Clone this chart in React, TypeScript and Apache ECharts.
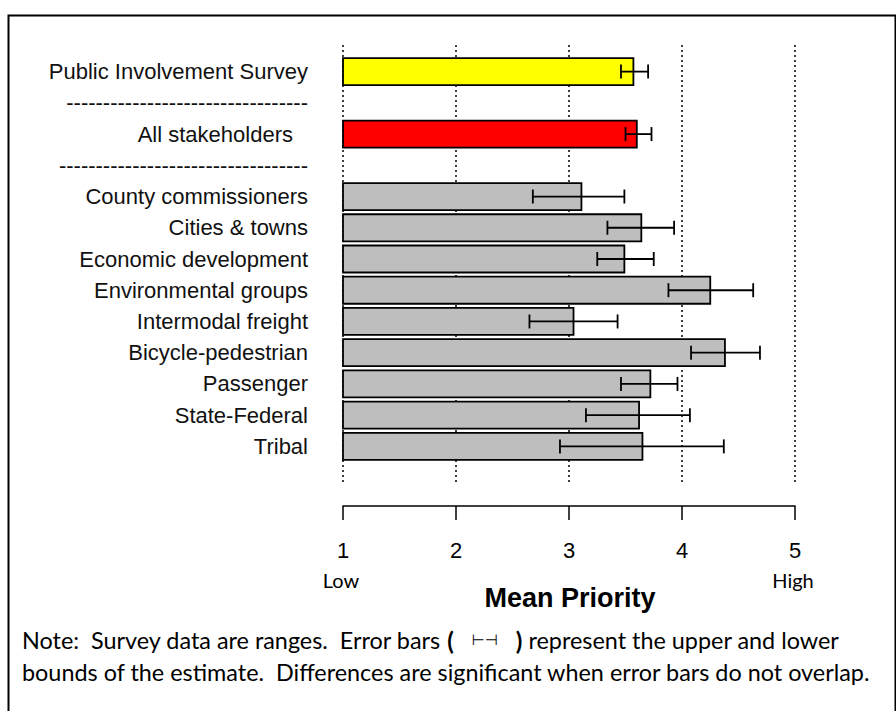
import React, { useEffect, useRef } from "react";
import * as echarts from "echarts";

const categories = [
  "Public Involvement Survey",
  "sep1",
  "All stakeholders",
  "sep2",
  "County commissioners",
  "Cities & towns",
  "Economic development",
  "Environmental groups",
  "Intermodal freight",
  "Bicycle-pedestrian",
  "Passenger",
  "State-Federal",
  "Tribal",
];

const barCategories = [
  "Public Involvement Survey",
  "All stakeholders",
  "County commissioners",
  "Cities & towns",
  "Economic development",
  "Environmental groups",
  "Intermodal freight",
  "Bicycle-pedestrian",
  "Passenger",
  "State-Federal",
  "Tribal",
];
const meanValues = [3.57, 3.6, 3.11, 3.64, 3.49, 4.25, 3.04, 4.38, 3.72, 3.62, 3.65];
const lowerBounds = [3.46, 3.5, 2.68, 3.34, 3.25, 3.88, 2.65, 4.08, 3.46, 3.15, 2.92];
const upperBounds = [3.7, 3.73, 3.49, 3.93, 3.75, 4.63, 3.43, 4.69, 3.96, 4.07, 4.37];
const tickValues = [1, 2, 3, 4, 5];

const barFill: Record<string, string> = {
  "Public Involvement Survey": "#FFFF00",
  "All stakeholders": "#FF0000",
};
const defaultFill = "#BEBEBE";

export default function App() {
  const ref = useRef<HTMLDivElement>(null);
  useEffect(() => {
    document.body.style.margin = "0";
    const chart = echarts.init(ref.current!, null, { renderer: "svg" });
    const data = barCategories.map((c, i) => [
      meanValues[i],
      categories.indexOf(c),
      lowerBounds[i],
      upperBounds[i],
    ]);
    const labelFont = "'Liberation Sans', Arial, sans-serif";
    const noteFont = "Lato, 'Open Sans', sans-serif";
    const option: any = {
      animation: false,
      backgroundColor: "#ffffff",
      grid: [
        { left: 343, right: 101, top: 56, height: 406 },
        { left: 343, right: 101, top: 45, height: 437 },
      ],
      xAxis: [
        {
          type: "value",
          gridIndex: 0,
          min: tickValues[0],
          max: tickValues[tickValues.length - 1],
          interval: 1,
          offset: 44,
          axisLine: { show: true, lineStyle: { color: "#000", width: 1.5 } },
          axisTick: { show: true, length: 14, lineStyle: { color: "#000", width: 1.5 } },
          axisLabel: {
            show: true,
            margin: 33,
            color: "#000",
            fontSize: 22,
            fontFamily: labelFont,
          },
          splitLine: { show: false },
        },
        {
          type: "value",
          gridIndex: 1,
          min: tickValues[0],
          max: tickValues[tickValues.length - 1],
          interval: 1,
          axisLine: { show: false },
          axisTick: { show: false },
          axisLabel: { show: false },
          splitLine: {
            show: true,
            lineStyle: { color: "#000", width: 1.5, type: [2, 3] },
          },
        },
      ],
      yAxis: [
        {
          type: "category",
          gridIndex: 0,
          data: categories,
          inverse: true,
          axisLine: { show: false },
          axisTick: { show: false },
          splitLine: { show: false },
          axisLabel: {
            margin: 35,
            color: "#111",
            fontSize: 22,
            fontFamily: labelFont,
            formatter: (v: string) => {
              if (v === "sep1") return "-".repeat(33);
              if (v === "sep2") return "-".repeat(34);
              if (v === "All stakeholders") return "{pad|" + v + "}";
              return v;
            },
            rich: {
              pad: {
                fontSize: 22,
                fontFamily: labelFont,
                color: "#111",
                padding: [0, 15, 0, 0],
              },
            },
          },
        },
        {
          type: "value",
          gridIndex: 1,
          min: 0,
          max: 1,
          show: false,
          splitLine: { show: false },
        },
      ],
      series: [
        {
          type: "custom",
          xAxisIndex: 0,
          yAxisIndex: 0,
          encode: { x: 0, y: 1 },
          data,
          z: 5,
          renderItem: (params: any, api: any) => {
            const v = api.value(0);
            const cat = api.value(1);
            const lo = api.value(2);
            const hi = api.value(3);
            const name = categories[cat];
            const start = api.coord([1, cat]);
            const end = api.coord([v, cat]);
            const pLo = api.coord([lo, cat]);
            const pHi = api.coord([hi, cat]);
            const h = api.size([0, 1])[1] * 0.865;
            const cap = 14;
            const lineStyle = { stroke: "#000", lineWidth: 1.8 };
            return {
              type: "group",
              children: [
                {
                  type: "rect",
                  shape: { x: start[0], y: start[1] - h / 2, width: end[0] - start[0], height: h },
                  style: { fill: barFill[name] || defaultFill, stroke: "#000", lineWidth: 1.8 },
                },
                {
                  type: "line",
                  shape: { x1: pLo[0], y1: pLo[1], x2: pHi[0], y2: pHi[1] },
                  style: lineStyle,
                },
                {
                  type: "line",
                  shape: { x1: pLo[0], y1: pLo[1] - cap / 2, x2: pLo[0], y2: pLo[1] + cap / 2 },
                  style: lineStyle,
                },
                {
                  type: "line",
                  shape: { x1: pHi[0], y1: pHi[1] - cap / 2, x2: pHi[0], y2: pHi[1] + cap / 2 },
                  style: lineStyle,
                },
              ],
            };
          },
        },
      ],
      graphic: [
        {
          type: "rect",
          left: 6,
          top: 13,
          shape: { x: 0, y: 0, width: 887, height: 720 },
          style: { fill: "none", stroke: "#000", lineWidth: 2 },
          z: 0,
          silent: true,
        },
        {
          type: "text",
          x: 341,
          y: 580,
          style: {
            text: "Low",
            font: "20px " + noteFont,
            fill: "#000",
            textAlign: "center",
            textVerticalAlign: "middle",
            verticalAlign: "middle",
          },
        },
        {
          type: "text",
          x: 793,
          y: 580,
          style: {
            text: "High",
            font: "20px " + noteFont,
            fill: "#000",
            textAlign: "center",
            textVerticalAlign: "middle",
            verticalAlign: "middle",
          },
        },
        {
          type: "text",
          x: 570,
          y: 598,
          style: {
            text: "Mean Priority",
            font: "bold 27px 'Liberation Sans', Arial, sans-serif",
            fill: "#000",
            textAlign: "center",
            textVerticalAlign: "middle",
            verticalAlign: "middle",
          },
        },
        {
          type: "text",
          x: 22,
          y: 640,
          style: {
            text: "Note:  Survey data are ranges.  Error bars {b|(}   {g|⊢⊣}   {b|)} represent the upper and lower",
            font: "23.4px " + noteFont,
            fill: "#000",
            textAlign: "left",
            textVerticalAlign: "middle",
            verticalAlign: "middle",
            rich: {
              b: { fontWeight: "bold", fontSize: 24, fontFamily: "Lato, sans-serif", fill: "#000" },
              g: { fontSize: 15, fontFamily: "'DejaVu Sans', sans-serif", fill: "#000" },
            },
          },
        },
        {
          type: "text",
          x: 22,
          y: 672,
          style: {
            text: "bounds of the estimate.  Differences are significant when error bars do not overlap.",
            font: "23.4px " + noteFont,
            fill: "#000",
            textAlign: "left",
            textVerticalAlign: "middle",
            verticalAlign: "middle",
          },
        },
      ],
    };
    chart.setOption(option);
    return () => chart.dispose();
  }, []);
  return <div ref={ref} style={{ width: 896, height: 711 }} />;
}
